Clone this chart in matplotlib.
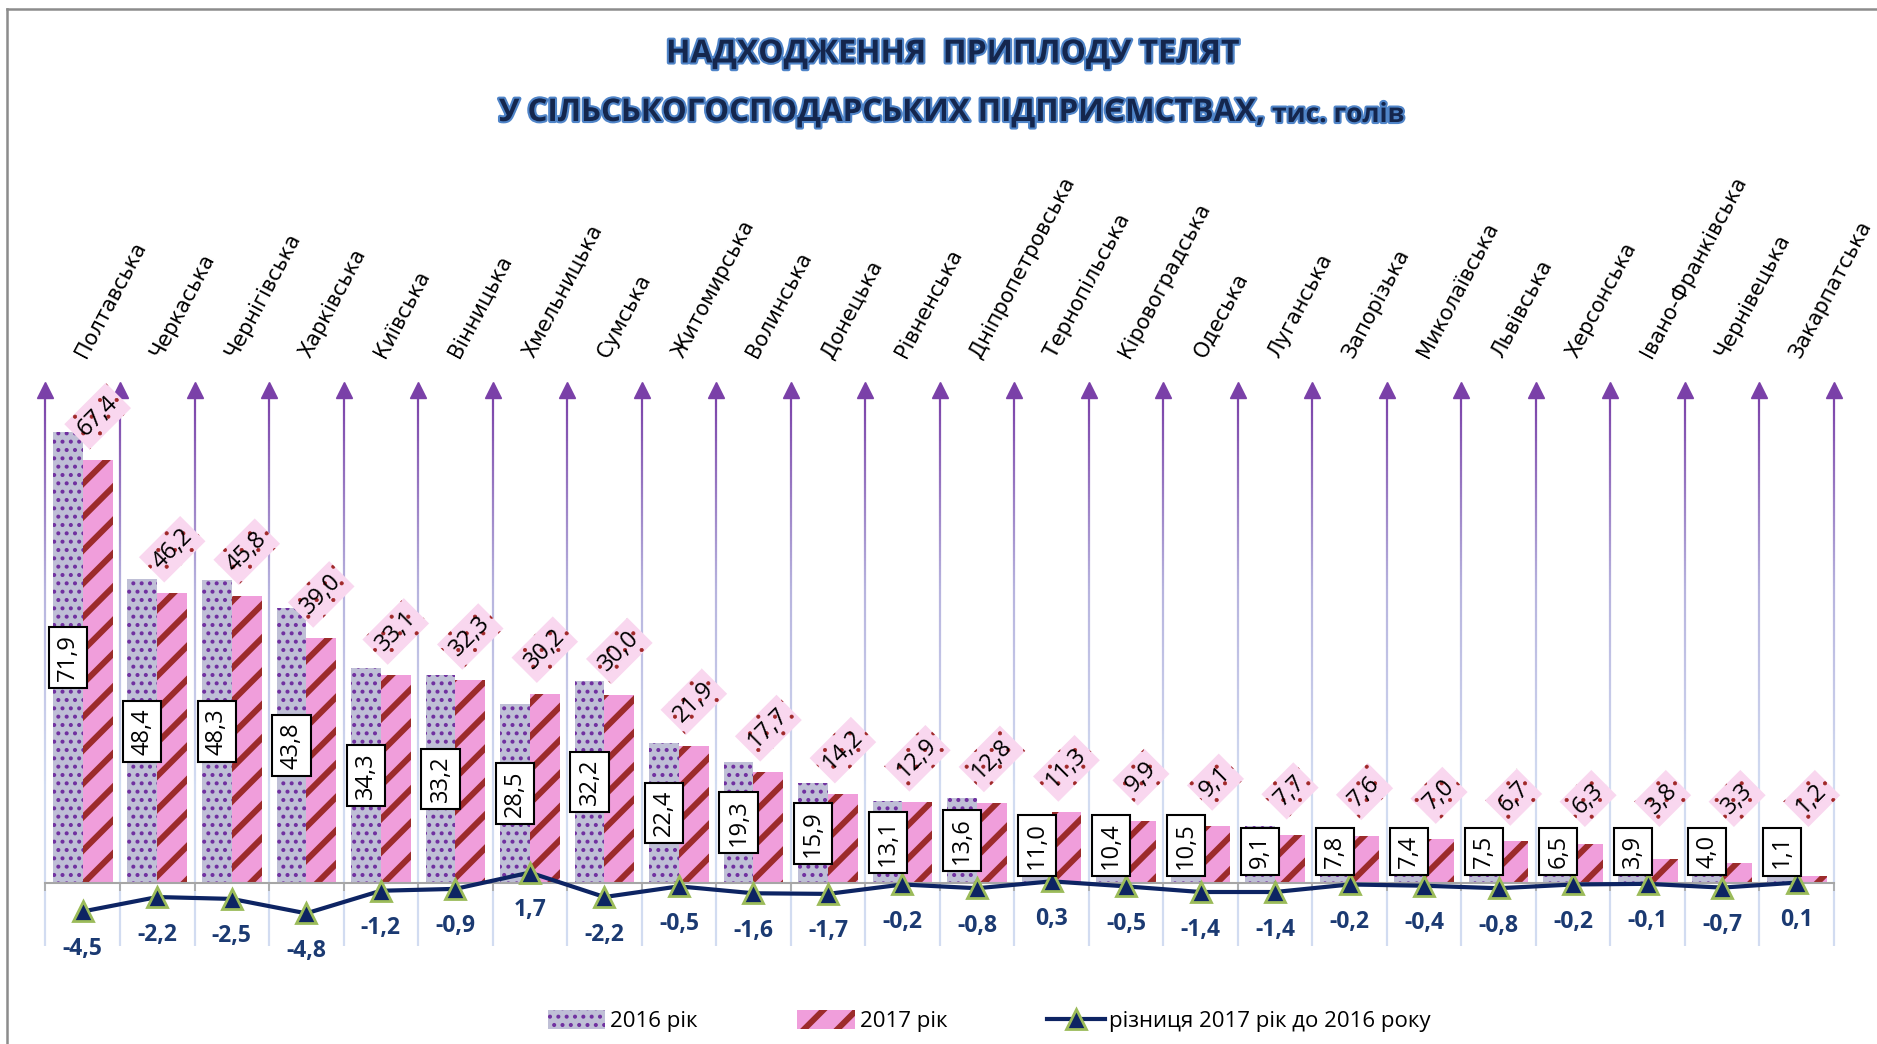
import matplotlib
matplotlib.use('Agg')
import matplotlib.pyplot as plt
import matplotlib.patheffects as pe
import numpy as np
from matplotlib.collections import LineCollection
from matplotlib.colors import LinearSegmentedColormap
from matplotlib.lines import Line2D

STRIPE_LW = 4.3
DOT_LW = 1.7
plt.rcParams['hatch.linewidth'] = STRIPE_LW

# data, thousand heads
regions = ['Полтавська', 'Черкаська', 'Чернігівська', 'Харківська', 'Київська',
           'Вінницька', 'Хмельницька', 'Сумська', 'Житомирська', 'Волинська',
           'Донецька', 'Рівненська', 'Дніпропетровська', 'Тернопільська',
           'Кіровоградська', 'Одеська', 'Луганська', 'Запорізька', 'Миколаївська',
           'Львівська', 'Херсонська', 'Івано-Франківська', 'Чернівецька', 'Закарпатська']
val_2016 = [71.9, 48.4, 48.3, 43.8, 34.3, 33.2, 28.5, 32.2, 22.4, 19.3, 15.9, 13.1,
            13.6, 11.0, 10.4, 10.5, 9.1, 7.8, 7.4, 7.5, 6.5, 3.9, 4.0, 1.1]
val_2017 = [67.4, 46.2, 45.8, 39.0, 33.1, 32.3, 30.2, 30.0, 21.9, 17.7, 14.2, 12.9,
            12.8, 11.3, 9.9, 9.1, 7.7, 7.6, 7.0, 6.7, 6.3, 3.8, 3.3, 1.2]
diff = [-4.5, -2.2, -2.5, -4.8, -1.2, -0.9, 1.7, -2.2, -0.5, -1.6, -1.7, -0.2,
        -0.8, 0.3, -0.5, -1.4, -1.4, -0.2, -0.4, -0.8, -0.2, -0.1, -0.7, 0.1]
legend_labels = ['2016 рік', '2017 рік', 'різниця 2017 рік до 2016 року']

NARROW = ['Liberation Sans Narrow', 'Open Sans', 'DejaVu Sans']
NUM = ['Open Sans', 'DejaVu Sans']


def fmt(v):
    return f'{v:.1f}'.replace('.', ',')


def hatch_lw(artist, lw):
    if hasattr(artist, 'set_hatch_linewidth'):
        artist.set_hatch_linewidth(lw)
    orig = artist.draw

    def draw(renderer):
        with plt.rc_context({'hatch.linewidth': lw}):
            orig(renderer)
    artist.draw = draw


W, H = 1877, 1044
fig = plt.figure(figsize=(W / 100, H / 100), dpi=100)
ax = fig.add_axes([45.5 / W, 1 - 946 / H, (1834 - 45.5) / W, (946 - 381) / H])
n = len(regions)
x = np.arange(n)
ax.set_xlim(-0.5, n - 0.5)
ax.set_ylim(-10, 80)

# vertical grid lines with purple -> pale blue gradient and arrow heads
bounds = np.arange(n + 1) - 0.5
cmap = LinearSegmentedColormap.from_list('g', ['#D2DCF1', '#B7B4DE', '#7A40A8'])
ys = np.linspace(-10, 78.5, 200)
t = np.clip((ys[:-1] - 15) / 63, 0, 1)
for xb in bounds:
    segs = [[(xb, ys[k]), (xb, ys[k + 1])] for k in range(len(ys) - 1)]
    ax.add_collection(LineCollection(segs, colors=cmap(t), linewidths=1.6,
                                     zorder=1, clip_on=False))
ax.plot(bounds, np.full(n + 1, 78.6), ls='none', marker='^', ms=11,
        color='#7A40A8', clip_on=False, zorder=1)

w = 0.4
b16 = ax.bar(x - w / 2, val_2016, w, color='#BFBFD6', edgecolor='#7030A0',
             linewidth=0, hatch='..', zorder=2)
b17 = ax.bar(x + w / 2, val_2017, w, color='#F09EDB', edgecolor='#9C2B2B',
             linewidth=0, hatch='/', zorder=2)
for p in b16:
    hatch_lw(p, DOT_LW)
for p in b17:
    hatch_lw(p, STRIPE_LW)

line, = ax.plot(x, diff, color='#0D2463', lw=3, marker='^', ms=14,
                mfc='#0D2463', mec='#9BBB59', mew=2, zorder=5)

# axis at zero with ticks on category boundaries
for s in ['top', 'right', 'left']:
    ax.spines[s].set_visible(False)
ax.spines['bottom'].set_position(('data', 0))
ax.spines['bottom'].set_color('#A6A6A6')
ax.spines['bottom'].set_linewidth(1.5)
ax.set_xticks(bounds)
ax.tick_params(axis='x', direction='out', length=6, color='#A6A6A6', width=1.2,
               labelbottom=False)
ax.set_yticks([])
ax.patch.set_visible(False)

# labels for 2016 (white boxes)
for xi, v in zip(x, val_2016):
    s = fmt(v)
    y = max(v / 2, (len(s) * 6.5 + 12) / 6.28)
    ax.text(xi - w / 2, y, s, rotation=90, ha='center', va='center', fontsize=17,
            family=NUM, zorder=6,
            bbox=dict(boxstyle='square,pad=0.3', fc='white', ec='black', lw=1.5))

# labels for 2017 (pink dotted boxes)
for xi, v in zip(x, val_2017):
    tx = ax.text(xi + w / 2, max(v + 7, 13.5), fmt(v), rotation=45, ha='center',
                 va='center', rotation_mode='anchor', fontsize=17, family=NUM,
                 zorder=7,
                 bbox=dict(boxstyle='square,pad=0.25', fc='#F9D7EF', ec='#A02828',
                           lw=0, hatch='.'))
    hatch_lw(tx.get_bbox_patch(), 0.5)

# difference labels
for xi, d in zip(x, diff):
    ax.annotate(fmt(d), (xi, d), xytext=(0, -27), textcoords='offset points',
                ha='center', va='center', fontsize=16.5, fontweight='bold',
                color='#1B3A72', family=NUM, zorder=6)

# category names above the arrows
for xi, name in zip(x, regions):
    ax.text(xi + 0.05, 83.5, name, rotation=62, rotation_mode='anchor',
            ha='left', va='baseline', fontsize=15, family='DejaVu Sans',
            clip_on=False)

# title
glow = [pe.withStroke(linewidth=3, foreground='#4F84C8')]
fig.text(0.508, 1 - 54 / H, 'НАДХОДЖЕННЯ  ПРИПЛОДУ ТЕЛЯТ', ha='center',
         va='center', fontsize=23, fontweight='bold', color='#14264D',
         family=NARROW, path_effects=glow)
t2 = fig.text(499 / W, 1 - 121 / H, 'У СІЛЬСЬКОГОСПОДАРСЬКИХ ПІДПРИЄМСТВАХ,',
              ha='left', va='baseline', fontsize=22.5, fontweight='bold',
              color='#14264D', family=NARROW, path_effects=glow)
ax.annotate(' тис. голів', xy=(1, 0), xycoords=t2, ha='left', va='bottom',
            fontsize=19, fontweight='bold', color='#14264D', family=NARROW,
            path_effects=glow, annotation_clip=False)

leg = fig.legend([b16, b17, line], legend_labels, loc='center',
                 bbox_to_anchor=(0.527, 1 - 1021 / H), ncol=3, frameon=False,
                 prop=dict(family=NARROW, size=16), columnspacing=4.5,
                 handlelength=2.6, handletextpad=0.2, handleheight=0.9)
hatch_lw(leg.legend_handles[0], DOT_LW)
hatch_lw(leg.legend_handles[1], STRIPE_LW)

# frame of the original sheet
frame = dict(transform=fig.transFigure, color='#8C8C8C', lw=1.8)
fig.add_artist(Line2D([7 / W, 1], [1 - 9 / H, 1 - 9 / H], **frame))
fig.add_artist(Line2D([7 / W, 7 / W], [0, 1 - 9 / H], **frame))

fig.savefig('out.png', dpi=100)
